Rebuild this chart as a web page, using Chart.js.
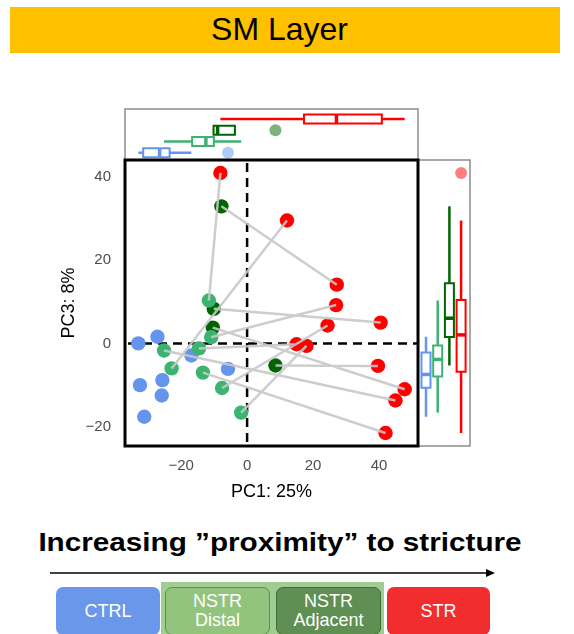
<!DOCTYPE html>
<html>
<head>
<meta charset="utf-8">
<title>SM Layer – PCA</title>
<script src="https://cdn.jsdelivr.net/npm/chart.js@4.4.1/dist/chart.umd.min.js"></script>
<style>
  html, body { margin: 0; padding: 0; background: #fff; }
  body { width: 574px; height: 634px; position: relative; overflow: hidden;
         font-family: "Liberation Sans", Arial, Helvetica, sans-serif; }
  #banner { position: absolute; left: 10px; top: 7px; width: 539px; padding-right: 11px; height: 46px;
            background: #ffc000; color: #000; font-size: 32px; line-height: 44px; text-align: center; }
  #chart { position: absolute; left: 0; top: 0; }
  #caption { position: absolute; left: 0; top: 526px; width: 560px; text-align: center;
             font-weight: bold; font-size: 26.5px; line-height: 32px; color: #000;
             transform: scaleX(1.12); transform-origin: 280px 0; }
  #arrow { position: absolute; left: 48px; top: 567px; }
  #band { position: absolute; left: 161px; top: 582px; width: 223px; height: 60px; background: #a0cd91; }
  .tag { position: absolute; top: 587px; height: 48px; border-radius: 7px; color: #fff;
         font-size: 18px; line-height: 19px; display: flex; align-items: center; justify-content: center;
         text-align: center; box-sizing: border-box; }
</style>
</head>
<body>
<div id="banner">SM Layer</div>
<canvas id="chart" width="574" height="520"></canvas>
<div id="caption">Increasing ”proximity” to stricture</div>
<svg id="arrow" width="452" height="12" viewBox="0 0 452 12">
  <line x1="2" y1="6" x2="440" y2="6" stroke="#000" stroke-width="1.5"/>
  <polygon points="438,2 447,6 438,10" fill="#000"/>
</svg>
<div id="band"></div>
<div class="tag" style="left:56px;width:104px;background:#6b97ea;">CTRL</div>
<div class="tag" style="left:165px;width:105px;background:#93c47d;border:1px solid #5e8f4f;">NSTR<br>Distal</div>
<div class="tag" style="left:276px;width:105px;background:#5f8f53;border:1px solid #3f6e35;">NSTR<br>Adjacent</div>
<div class="tag" style="left:387px;width:103px;background:#f22d2d;">STR</div>

<script>
// ---- PCA scores (PC1, PC3) per tissue group ----
const groupNames = ['CTRL', 'NSTR Distal', 'NSTR Adjacent', 'STR'];

const ctrlPC1 = [-33.0, -27.2, -16.9, -5.8, -25.7, -32.5, -25.9, -31.2];
const ctrlPC3 = [0.0, 1.6, -2.9, -6.1, -8.8, -10.0, -12.5, -17.6];

const distalPC1 = [-11.6, -10.9, -25.2, -14.6, -22.9, -13.4, -7.6, -1.8];
const distalPC3 = [10.3, 1.5, -1.7, -1.2, -6.0, -7.0, -10.7, -16.6];

const adjacentPC1 = [-7.8, -10.1, -10.4, 8.6];
const adjacentPC3 = [32.9, 8.3, 3.8, -5.3];

const strPC1 = [-8.1, 12.1, 27.2, 27.0, 40.5, 24.4, 15.0, 18.0, 39.7, 47.8, 45.0, 42.0];
const strPC3 = [40.9, 29.5, 14.1, 9.2, 5.0, 4.3, -0.2, -0.6, -5.4, -11.0, -13.7, -21.5];

// Each STR specimen is linked to the non-stricture specimen of the same patient
const strPartnerGroup = ['distal', 'distal', 'adjacent', 'distal', 'adjacent', 'distal',
                         'distal', 'distal', 'adjacent', 'adjacent', 'distal', 'distal'];
const strPartnerIndex = [0, 4, 0, 1, 1, 6, 3, 7, 3, 2, 2, 5];

// Axis ticks and titles
const xTicks = [-20, 0, 20, 40];
const yTicks = [-20, 0, 20, 40];
const xTitle = 'PC1: 25%';
const yTitle = 'PC3: 8%';

// ---- styling ----
const FONT = "'Liberation Sans', Arial, Helvetica, sans-serif";
Chart.defaults.font.family = FONT;

const groups = [
  { key: 'ctrl',     name: groupNames[0], pc1: ctrlPC1,     pc3: ctrlPC3,     color: '#6495ED', faded: 'rgba(100,149,237,0.5)' },
  { key: 'distal',   name: groupNames[1], pc1: distalPC1,   pc3: distalPC3,   color: '#3CB371', faded: 'rgba(60,179,113,0.5)' },
  { key: 'adjacent', name: groupNames[2], pc1: adjacentPC1, pc3: adjacentPC3, color: '#006400', faded: 'rgba(0,100,0,0.5)' },
  { key: 'str',      name: groupNames[3], pc1: strPC1,      pc3: strPC3,      color: '#FF0000', faded: 'rgba(255,0,0,0.5)' }
];
const byKey = Object.fromEntries(groups.map(g => [g.key, g]));

// Axis limits: data range expanded by 5% on each side
function expandedRange(values) {
  const lo = Math.min(...values), hi = Math.max(...values);
  const pad = (hi - lo) * 0.05;
  return [lo - pad, hi + pad];
}
const [xMin, xMax] = expandedRange(groups.flatMap(g => g.pc1));
const [yMin, yMax] = expandedRange(groups.flatMap(g => g.pc3));

// Patient pair segments (null point breaks the line between pairs)
const pairData = [];
strPC1.forEach((x, i) => {
  const g = byKey[strPartnerGroup[i]];
  const j = strPartnerIndex[i];
  pairData.push({ x: g.pc1[j], y: g.pc3[j] }, { x: x, y: strPC3[i] }, { x: null, y: null });
});

// Tukey box-plot summary (type-7 quantiles, 1.5 IQR whiskers)
function boxStats(values) {
  const s = [...values].sort((a, b) => a - b);
  const q = p => {
    const h = (s.length - 1) * p, lo = Math.floor(h);
    const hi = Math.min(lo + 1, s.length - 1);
    return s[lo] + (h - lo) * (s[hi] - s[lo]);
  };
  const q1 = q(0.25), med = q(0.5), q3 = q(0.75), iqr = q3 - q1;
  const inside = s.filter(v => v >= q1 - 1.5 * iqr && v <= q3 + 1.5 * iqr);
  return {
    q1, med, q3,
    lo: Math.min(...inside), hi: Math.max(...inside),
    out: s.filter(v => v < q1 - 1.5 * iqr || v > q3 + 1.5 * iqr)
  };
}

const fmtTick = v => (v < 0 ? '\u2212' + Math.abs(v) : String(v));

// Dashed reference lines through the origin
const originLines = {
  id: 'originLines',
  beforeDatasetsDraw(chart) {
    const { ctx, chartArea: a, scales: { x, y } } = chart;
    const x0 = x.getPixelForValue(0), y0 = y.getPixelForValue(0);
    ctx.save();
    ctx.beginPath(); ctx.rect(a.left, a.top, a.width, a.height); ctx.clip();
    ctx.strokeStyle = '#000'; ctx.lineWidth = 2.5; ctx.setLineDash([9, 6]);
    ctx.beginPath(); ctx.moveTo(x0, a.top + 3); ctx.lineTo(x0, a.bottom); ctx.stroke();
    ctx.beginPath(); ctx.moveTo(a.left + 3, y0); ctx.lineTo(a.right, y0); ctx.stroke();
    ctx.restore();
  }
};

// Marginal box plots (PC1 above, PC3 to the right) and panel frames
const marginalBoxes = {
  id: 'marginalBoxes',
  afterDraw(chart) {
    const { ctx, chartArea: a, scales: { x, y } } = chart;
    const topH = 51, sideW = 52, half = 4.5;
    ctx.save();

    // frames of the marginal panels
    ctx.strokeStyle = '#8c8c8c'; ctx.lineWidth = 1.5;
    ctx.strokeRect(a.left, a.top - topH, a.width, topH);
    ctx.strokeRect(a.right, a.top, sideW, a.height);

    groups.forEach((g, i) => {
      // PC1 distribution: horizontal boxes stacked upward
      const sx = boxStats(g.pc1);
      const cy = a.top - 7.3 - i * 11.2;
      const px = v => x.getPixelForValue(v);
      ctx.strokeStyle = g.color;
      ctx.lineWidth = 2.5;
      ctx.beginPath(); ctx.moveTo(px(sx.lo), cy); ctx.lineTo(px(sx.hi), cy); ctx.stroke();
      ctx.fillStyle = '#fff'; ctx.lineWidth = 2;
      ctx.beginPath(); ctx.rect(px(sx.q1), cy - half, px(sx.q3) - px(sx.q1), 2 * half);
      ctx.fill(); ctx.stroke();
      ctx.lineWidth = 3.5;
      ctx.beginPath(); ctx.moveTo(px(sx.med), cy - half); ctx.lineTo(px(sx.med), cy + half); ctx.stroke();
      ctx.fillStyle = g.faded;
      sx.out.forEach(v => { ctx.beginPath(); ctx.arc(px(v), cy, 6, 0, Math.PI * 2); ctx.fill(); });

      // PC3 distribution: vertical boxes side by side
      const sy = boxStats(g.pc3);
      const cx = a.right + 8 + i * 11.7;
      const py = v => y.getPixelForValue(v);
      ctx.lineWidth = 2.5;
      ctx.beginPath(); ctx.moveTo(cx, py(sy.lo)); ctx.lineTo(cx, py(sy.hi)); ctx.stroke();
      ctx.fillStyle = '#fff'; ctx.lineWidth = 2;
      ctx.beginPath(); ctx.rect(cx - half, py(sy.q3), 2 * half, py(sy.q1) - py(sy.q3));
      ctx.fill(); ctx.stroke();
      ctx.lineWidth = 3.5;
      ctx.beginPath(); ctx.moveTo(cx - half, py(sy.med)); ctx.lineTo(cx + half, py(sy.med)); ctx.stroke();
      ctx.fillStyle = g.faded;
      sy.out.forEach(v => { ctx.beginPath(); ctx.arc(cx, py(v), 6, 0, Math.PI * 2); ctx.fill(); });
    });

    // main panel border
    ctx.strokeStyle = '#000'; ctx.lineWidth = 3;
    ctx.strokeRect(a.left, a.top, a.width, a.height);
    ctx.restore();
  }
};

const pointSets = groups.map(g => ({
  label: g.name,
  data: g.pc1.map((v, i) => ({ x: v, y: g.pc3[i] })),
  backgroundColor: g.color,
  borderWidth: 0,
  pointRadius: 7.2,
  pointHoverRadius: 7.2
}));

new Chart(document.getElementById('chart'), {
  type: 'scatter',
  data: {
    // first dataset is painted last, so pair lines sit above the points
    datasets: [
      {
        label: 'pairs',
        data: pairData,
        showLine: true,
        spanGaps: false,
        borderColor: 'rgba(200,200,200,0.9)',
        borderWidth: 2.5,
        pointRadius: 0,
        pointHoverRadius: 0
      },
      pointSets[3], pointSets[1], pointSets[2], pointSets[0]
    ]
  },
  options: {
    responsive: false,
    animation: false,
    events: [],
    layout: { padding: { left: 58, top: 160, right: 156, bottom: 17 } },
    plugins: { legend: { display: false }, tooltip: { enabled: false } },
    scales: {
      x: {
        type: 'linear', min: xMin, max: xMax,
        afterBuildTicks: s => { s.ticks = xTicks.map(v => ({ value: v })); },
        afterFit: s => { s.height = 57; },
        grid: { display: false, drawTicks: false },
        border: { display: false },
        ticks: { padding: 11, color: '#4d4d4d', font: { size: 15 }, callback: fmtTick },
        title: { display: true, text: xTitle, color: '#000', font: { size: 18 }, padding: { top: 0, bottom: 0 } }
      },
      y: {
        type: 'linear', min: yMin, max: yMax,
        afterBuildTicks: s => { s.ticks = yTicks.map(v => ({ value: v })); },
        afterFit: s => { s.width = 67; },
        grid: { display: false, drawTicks: false },
        border: { display: false },
        ticks: { padding: 14, color: '#4d4d4d', font: { size: 15 }, callback: fmtTick },
        title: { display: true, text: yTitle, color: '#000', font: { size: 18 }, padding: { top: 0, bottom: 0 } }
      }
    }
  },
  plugins: [originLines, marginalBoxes]
});
</script>
</body>
</html>
